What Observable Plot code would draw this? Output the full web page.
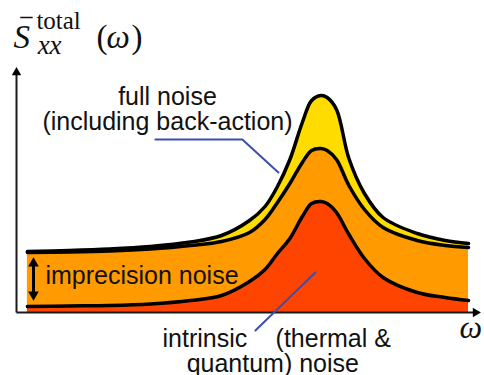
<!DOCTYPE html>
<html><head><meta charset="utf-8">
<script src="https://cdn.jsdelivr.net/npm/d3@7"></script>
<script src="https://cdn.jsdelivr.net/npm/@observablehq/plot@0.6"></script>
<style>body{margin:0;background:#fff} svg{display:block}</style>
</head><body><div id="chart"></div>
<script>
// frequency samples (units of omega_m)
const omega = [0.035, 0.17, 0.30, 0.43, 0.56, 0.66, 0.75, 0.80, 0.84, 0.88, 0.92, 0.95, 0.98, 1.00, 1.03, 1.07, 1.12, 1.18, 1.29, 1.38, 1.455];
// stacked spectral components (arbitrary units)
const intrinsic   = [0.06, 0.065, 0.07, 0.085, 0.12, 0.17, 0.31, 0.43, 0.59, 0.74, 0.96, 1.09, 1.11, 1.09, 1.00, 0.78, 0.54, 0.35, 0.20, 0.15, 0.12];
const imprecision = [0.54, 0.54, 0.545, 0.55, 0.55, 0.54, 0.49, 0.50, 0.51, 0.55, 0.54, 0.53, 0.53, 0.53, 0.53, 0.49, 0.49, 0.50, 0.52, 0.52, 0.53];
const backaction  = [0.01, 0.015, 0.02, 0.025, 0.035, 0.06, 0.12, 0.13, 0.16, 0.24, 0.40, 0.50, 0.53, 0.53, 0.50, 0.27, 0.16, 0.10, 0.07, 0.05, 0.04];
const components = ["intrinsic", "imprecision", "backaction"];
const componentColors = ["#ff4400", "#ff9a00", "#ffdc00"];

const xDomain = [0, 1.5];
const yDomain = [0, 2.52];

// annotations (data units)
const centeredLabels = [
  {w: 0.486, v: 2.08, text: "full noise"},
  {w: 0.486, v: 1.83, text: "(including back-action)"},
  {w: 0.825, v: -0.59, text: "quantum) noise"}
];
const leftLabels = [
  {w: 0.093, v: 0.29, text: "imprecision noise"},
  {w: 0.470, v: -0.34, text: "intrinsic"},
  {w: 0.834, v: -0.34, text: "(thermal &"}
];
const mathItalic = [
  {w: -0.0097, v: 2.65, text: "S", size: 33},
  {w: 0.068, v: 2.59, text: "xx", size: 27},
  {w: 0.290, v: 2.65, text: "ω", size: 33},
  {w: 1.426, v: -0.25, text: "ω", size: 32}
];
const mathRoman = [
  {w: 0.064, v: 2.84, text: "total", size: 25},
  {w: 0.2575, v: 2.65, text: "(", size: 33},
  {w: 0.370, v: 2.65, text: ")", size: 33}
];
const sBar = [{x1: 0.012, x2: 0.052, y1: 2.95, y2: 2.95}];
const pointers = [
  {id: "ba", w: 0.447, v: 1.73}, {id: "ba", w: 0.727, v: 1.73}, {id: "ba", w: 0.843, v: 1.40},
  {id: "in", w: 0.769, v: -0.18}, {id: "in", w: 0.962, v: 0.40}
];
const axisLines = [
  {x1: xDomain[0], y1: 0, x2: 1.478, y2: 0},
  {x1: xDomain[0], y1: 0, x2: xDomain[0], y2: 2.40}
];
const axisHeads = [
  {w: xDomain[0], v: 2.40, rot: 0},
  {w: 1.4775, v: 0, rot: 90}
];
const doubleArrow = [{x1: 0.0547, y1: 0.18, x2: 0.0547, y2: 0.49}];
const doubleHeads = [
  {w: 0.0547, v: 0.49, rot: 0},
  {w: 0.0547, v: 0.18, rot: 180}
];

const rows = [];
[intrinsic, imprecision, backaction].forEach((vals, k) => {
  omega.forEach((w, i) => rows.push({w, v: vals[i], comp: components[k]}));
});

const sans = "'Liberation Sans', Arial, Helvetica, sans-serif";
const serif = "'Liberation Serif', 'Times New Roman', serif";

const chart = Plot.plot({
  width: 484,
  height: 375,
  margin: 0,
  x: {domain: xDomain, range: [16, 482], axis: null},
  y: {domain: yDomain, range: [312, 60], axis: null},
  color: {domain: components, range: componentColors},
  style: {background: "white", overflow: "visible"},
  marks: [
    Plot.areaY(rows, {x: "w", y: "v", z: "comp", fill: "comp", order: components, curve: "catmull-rom"}),
    Plot.lineY(rows, Plot.stackY2({x: "w", y: "v", z: "comp", order: components, curve: "catmull-rom", stroke: "#000", strokeWidth: 3.5})),
    Plot.link(axisLines, {x1: "x1", y1: "y1", x2: "x2", y2: "y2", stroke: "#1a1a1a", strokeWidth: 2}),
    Plot.dot(axisHeads, {x: "w", y: "v", rotate: "rot", r: 4.5, symbol: "triangle2", fill: "#000"}),
    Plot.link(doubleArrow, {x1: "x1", y1: "y1", x2: "x2", y2: "y2", stroke: "#000", strokeWidth: 3}),
    Plot.dot(doubleHeads, {x: "w", y: "v", rotate: "rot", r: 5.1, symbol: "triangle2", fill: "#000"}),
    Plot.line(pointers, {x: "w", y: "v", z: "id", stroke: "#3c4fb0", strokeWidth: 2}),
    Plot.text(centeredLabels, {x: "w", y: "v", text: "text", textAnchor: "middle", lineAnchor: "bottom", fontSize: 25, fontFamily: sans, fill: "#111"}),
    Plot.text(leftLabels, {x: "w", y: "v", text: "text", textAnchor: "start", lineAnchor: "bottom", fontSize: 25, fontFamily: sans, fill: "#111"}),
    Plot.text(mathItalic, {x: "w", y: "v", text: "text", textAnchor: "start", lineAnchor: "bottom", fontSize: d => d.size, fontStyle: "italic", fontFamily: serif, fill: "#111"}),
    Plot.text(mathRoman, {x: "w", y: "v", text: "text", textAnchor: "start", lineAnchor: "bottom", fontSize: d => d.size, fontFamily: serif, fill: "#111"}),
    Plot.link(sBar, {x1: "x1", y1: "y1", x2: "x2", y2: "y2", stroke: "#111", strokeWidth: 1.5})
  ]
});
document.getElementById("chart").appendChild(chart);
</script>
</body></html>
